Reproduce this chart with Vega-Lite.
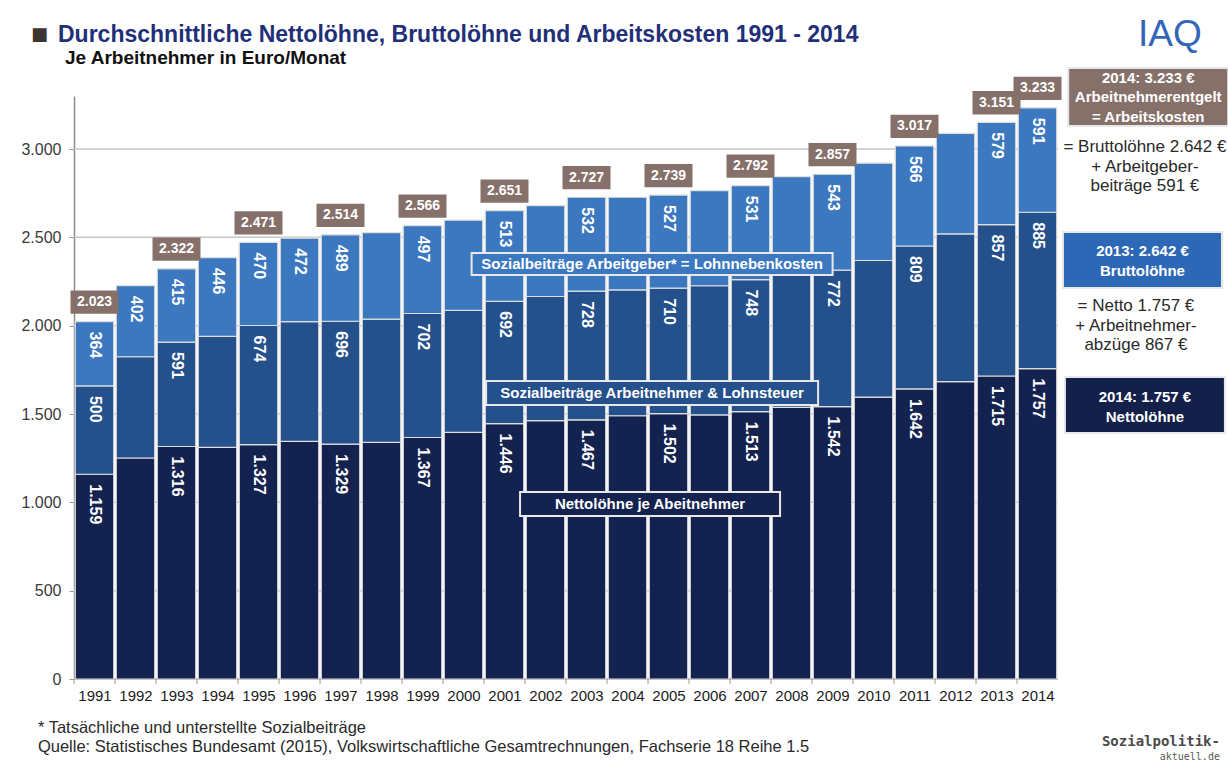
{
  "$schema": "https://vega.github.io/schema/vega-lite/v6.json",
  "width": 1148,
  "height": 583,
  "autosize": {"type": "none"},
  "padding": {"left": 74, "top": 96, "right": 6, "bottom": 92},
  "background": "white",
  "config": {
    "view": {"stroke": null},
    "font": "Liberation Sans",
    "locale": {"number": {"decimal": ",", "thousands": ".", "grouping": [3], "currency": ["", " €"]}}
  },
  "resolve": {"axis": {"x": "independent", "y": "independent"}},
  "datasets": {
    "segments": [
      {"year": 1991, "part": "Netto", "value": 1159, "show": true},
      {"year": 1991, "part": "Arbeitnehmer", "value": 500, "show": true},
      {"year": 1991, "part": "Arbeitgeber", "value": 364, "show": true},
      {"year": 1992, "part": "Netto", "value": 1251, "show": false},
      {"year": 1992, "part": "Arbeitnehmer", "value": 573, "show": false},
      {"year": 1992, "part": "Arbeitgeber", "value": 402, "show": true},
      {"year": 1993, "part": "Netto", "value": 1316, "show": true},
      {"year": 1993, "part": "Arbeitnehmer", "value": 591, "show": true},
      {"year": 1993, "part": "Arbeitgeber", "value": 415, "show": true},
      {"year": 1994, "part": "Netto", "value": 1311, "show": false},
      {"year": 1994, "part": "Arbeitnehmer", "value": 628, "show": false},
      {"year": 1994, "part": "Arbeitgeber", "value": 446, "show": true},
      {"year": 1995, "part": "Netto", "value": 1327, "show": true},
      {"year": 1995, "part": "Arbeitnehmer", "value": 674, "show": true},
      {"year": 1995, "part": "Arbeitgeber", "value": 470, "show": true},
      {"year": 1996, "part": "Netto", "value": 1345, "show": false},
      {"year": 1996, "part": "Arbeitnehmer", "value": 678, "show": false},
      {"year": 1996, "part": "Arbeitgeber", "value": 472, "show": true},
      {"year": 1997, "part": "Netto", "value": 1329, "show": true},
      {"year": 1997, "part": "Arbeitnehmer", "value": 696, "show": true},
      {"year": 1997, "part": "Arbeitgeber", "value": 489, "show": true},
      {"year": 1998, "part": "Netto", "value": 1339, "show": false},
      {"year": 1998, "part": "Arbeitnehmer", "value": 698, "show": false},
      {"year": 1998, "part": "Arbeitgeber", "value": 490, "show": false},
      {"year": 1999, "part": "Netto", "value": 1367, "show": true},
      {"year": 1999, "part": "Arbeitnehmer", "value": 702, "show": true},
      {"year": 1999, "part": "Arbeitgeber", "value": 497, "show": true},
      {"year": 2000, "part": "Netto", "value": 1396, "show": false},
      {"year": 2000, "part": "Arbeitnehmer", "value": 690, "show": false},
      {"year": 2000, "part": "Arbeitgeber", "value": 511, "show": false},
      {"year": 2001, "part": "Netto", "value": 1446, "show": true},
      {"year": 2001, "part": "Arbeitnehmer", "value": 692, "show": true},
      {"year": 2001, "part": "Arbeitgeber", "value": 513, "show": true},
      {"year": 2002, "part": "Netto", "value": 1462, "show": false},
      {"year": 2002, "part": "Arbeitnehmer", "value": 703, "show": false},
      {"year": 2002, "part": "Arbeitgeber", "value": 515, "show": false},
      {"year": 2003, "part": "Netto", "value": 1467, "show": true},
      {"year": 2003, "part": "Arbeitnehmer", "value": 728, "show": true},
      {"year": 2003, "part": "Arbeitgeber", "value": 532, "show": true},
      {"year": 2004, "part": "Netto", "value": 1490, "show": false},
      {"year": 2004, "part": "Arbeitnehmer", "value": 713, "show": false},
      {"year": 2004, "part": "Arbeitgeber", "value": 524, "show": false},
      {"year": 2005, "part": "Netto", "value": 1502, "show": true},
      {"year": 2005, "part": "Arbeitnehmer", "value": 710, "show": true},
      {"year": 2005, "part": "Arbeitgeber", "value": 527, "show": true},
      {"year": 2006, "part": "Netto", "value": 1495, "show": false},
      {"year": 2006, "part": "Arbeitnehmer", "value": 731, "show": false},
      {"year": 2006, "part": "Arbeitgeber", "value": 538, "show": false},
      {"year": 2007, "part": "Netto", "value": 1513, "show": true},
      {"year": 2007, "part": "Arbeitnehmer", "value": 748, "show": true},
      {"year": 2007, "part": "Arbeitgeber", "value": 531, "show": true},
      {"year": 2008, "part": "Netto", "value": 1537, "show": false},
      {"year": 2008, "part": "Arbeitnehmer", "value": 763, "show": false},
      {"year": 2008, "part": "Arbeitgeber", "value": 544, "show": false},
      {"year": 2009, "part": "Netto", "value": 1542, "show": true},
      {"year": 2009, "part": "Arbeitnehmer", "value": 772, "show": true},
      {"year": 2009, "part": "Arbeitgeber", "value": 543, "show": true},
      {"year": 2010, "part": "Netto", "value": 1596, "show": false},
      {"year": 2010, "part": "Arbeitnehmer", "value": 773, "show": false},
      {"year": 2010, "part": "Arbeitgeber", "value": 551, "show": false},
      {"year": 2011, "part": "Netto", "value": 1642, "show": true},
      {"year": 2011, "part": "Arbeitnehmer", "value": 809, "show": true},
      {"year": 2011, "part": "Arbeitgeber", "value": 566, "show": true},
      {"year": 2012, "part": "Netto", "value": 1683, "show": false},
      {"year": 2012, "part": "Arbeitnehmer", "value": 837, "show": false},
      {"year": 2012, "part": "Arbeitgeber", "value": 569, "show": false},
      {"year": 2013, "part": "Netto", "value": 1715, "show": true},
      {"year": 2013, "part": "Arbeitnehmer", "value": 857, "show": true},
      {"year": 2013, "part": "Arbeitgeber", "value": 579, "show": true},
      {"year": 2014, "part": "Netto", "value": 1757, "show": true},
      {"year": 2014, "part": "Arbeitnehmer", "value": 885, "show": true},
      {"year": 2014, "part": "Arbeitgeber", "value": 591, "show": true}
    ],
    "totals": [
      {"year": 1991, "total": 2023},
      {"year": 1993, "total": 2322},
      {"year": 1995, "total": 2471},
      {"year": 1997, "total": 2514},
      {"year": 1999, "total": 2566},
      {"year": 2001, "total": 2651},
      {"year": 2003, "total": 2727},
      {"year": 2005, "total": 2739},
      {"year": 2007, "total": 2792},
      {"year": 2009, "total": 2857},
      {"year": 2011, "total": 3017},
      {"year": 2013, "total": 3151},
      {"year": 2014, "total": 3233}
    ],
    "boxes": [
      {"id": "AG", "grp": "cat", "x": 2004.6, "y": 2349, "ty": 2349, "lines": ["Sozialbeiträge Arbeitgeber* = Lohnnebenkosten"]},
      {"id": "AN", "grp": "cat", "x": 2004.6, "y": 1619, "ty": 1619, "lines": ["Sozialbeiträge Arbeitnehmer & Lohnsteuer"]},
      {"id": "NE", "grp": "cat", "x": 2004.55, "y": 990, "ty": 990, "lines": ["Nettolöhne je Abeitnehmer"]},
      {"id": "AK", "grp": "side", "x": 2016.7, "y": 3294, "ty": 3402, "lines": ["2014: 3.233 €", "Arbeitnehmerentgelt", "= Arbeitskosten"]},
      {"id": "BR", "grp": "side", "x": 2016.56, "y": 2372, "ty": 2422, "lines": ["2013: 2.642 €", "Bruttolöhne"]},
      {"id": "NL", "grp": "side", "x": 2016.62, "y": 1551, "ty": 1596, "lines": ["2014: 1.757 €", "Nettolöhne"]}
    ],
    "notes": [
      {"x": 2016.62, "y": 3011, "lines": ["= Bruttolöhne 2.642 €", "+ Arbeitgeber-", "beiträge 591 €"]},
      {"x": 2016.4, "y": 2111, "lines": ["= Netto 1.757 €", "+ Arbeitnehmer-", "abzüge 867 €"]}
    ],
    "grid": [{"g": 500}, {"g": 1000}, {"g": 1500}, {"g": 2000}, {"g": 2500}, {"g": 3000}]
  },
  "layer": [
    {
      "data": {"name": "grid"},
      "mark": {"type": "rule", "color": "#c6c6c6", "strokeWidth": 1.5},
      "encoding": {
        "y": {"field": "g", "type": "quantitative", "axis": null},
        "x": {"datum": 1990.5, "type": "quantitative", "axis": null},
        "x2": {"datum": 2014.5}
      }
    },
    {
      "data": {"values": [{}]},
      "mark": {"type": "rule", "color": "#9a9a9a", "strokeWidth": 1.5},
      "encoding": {
        "x": {"datum": 1990.5, "type": "quantitative", "axis": null},
        "x2": {"datum": 2014.5},
        "y": {"datum": 0, "type": "quantitative", "axis": null}
      }
    },
    {
      "data": {"name": "segments"},
      "transform": [{"filter": "datum.part == 'Netto'"}],
      "mark": {"type": "rule", "color": "#9a9a9a", "strokeWidth": 1, "xOffset": -20.5, "y2Offset": 5},
      "encoding": {
        "x": {"field": "year", "type": "quantitative", "axis": null},
        "y": {"datum": 0, "type": "quantitative", "axis": null},
        "y2": {"datum": 0}
      }
    },
    {
      "data": {"name": "segments"},
      "mark": {"type": "bar", "width": 38.5, "stroke": "#dedede", "strokeWidth": 1.2},
      "encoding": {
        "x": {
          "field": "year", "type": "quantitative",
          "scale": {"domain": [1990.5, 2018.5], "nice": false, "zero": false, "padding": 0},
          "axis": {
            "values": [1991, 1992, 1993, 1994, 1995, 1996, 1997, 1998, 1999, 2000, 2001, 2002, 2003, 2004, 2005, 2006, 2007, 2008, 2009, 2010, 2011, 2012, 2013, 2014],
            "format": "d", "domain": false, "ticks": false, "grid": false,
            "labelFontSize": 15, "labelColor": "#1a1a1a", "labelPadding": 9,
            "labelFlush": false, "labelOverlap": false, "title": null
          }
        },
        "y": {
          "field": "value", "type": "quantitative", "stack": "zero",
          "scale": {"domain": [0, 3300], "nice": false},
          "axis": {
            "values": [0, 500, 1000, 1500, 2000, 2500, 3000],
            "format": ",.0f", "grid": false,
            "domainColor": "#8c8c8c", "domainWidth": 1.5,
            "tickColor": "#9a9a9a", "tickSize": 5,
            "labelPadding": 8, "labelFontSize": 16, "labelColor": "#3a3a3a", "title": null
          }
        },
        "color": {
          "field": "part", "type": "nominal",
          "scale": {"domain": ["Netto", "Arbeitnehmer", "Arbeitgeber"], "range": ["#13224f", "#24508b", "#3b78bf"]},
          "legend": null
        },
        "order": {"field": "part", "type": "ordinal", "sort": "descending"}
      }
    },
    {
      "data": {"name": "segments"},
      "mark": {"type": "text", "angle": 90, "align": "left", "baseline": "middle", "dx": 10, "fontSize": 16, "fontWeight": "bold", "color": "white"},
      "encoding": {
        "x": {"field": "year", "type": "quantitative", "axis": null},
        "y": {"field": "value", "type": "quantitative", "stack": "zero", "axis": null},
        "detail": {"field": "part", "type": "nominal"},
        "order": {"field": "part", "type": "ordinal", "sort": "descending"},
        "text": {"condition": {"test": "datum.show", "field": "value", "type": "quantitative", "format": ","}, "value": ""}
      }
    },
    {
      "data": {"name": "totals"},
      "mark": {"type": "point", "shape": "M-1,-1.3L1,-1.3L1,-0.33L-1,-0.33Z", "size": 2304, "filled": true, "color": "#86706a", "opacity": 1, "strokeWidth": 0},
      "encoding": {
        "x": {"field": "year", "type": "quantitative", "axis": null},
        "y": {"field": "total", "type": "quantitative", "axis": null}
      }
    },
    {
      "data": {"name": "totals"},
      "mark": {"type": "text", "dy": -19.5, "baseline": "middle", "align": "center", "fontSize": 14, "fontWeight": "bold", "color": "white"},
      "encoding": {
        "x": {"field": "year", "type": "quantitative", "axis": null},
        "y": {"field": "total", "type": "quantitative", "axis": null},
        "text": {"field": "total", "type": "quantitative", "format": ","}
      }
    },
    {
      "data": {"name": "boxes"},
      "mark": {"type": "point", "filled": true, "opacity": 1, "size": 40000, "stroke": "#e8e8e8", "strokeWidth": 2},
      "encoding": {
        "x": {"field": "x", "type": "quantitative", "axis": null},
        "y": {"field": "y", "type": "quantitative", "axis": null},
        "shape": {
          "field": "id", "type": "nominal", "legend": null,
          "scale": {
            "domain": ["AG", "AN", "NE", "AK", "BR", "NL"],
            "range": [
              "M-1.805,-0.11L1.805,-0.11L1.805,0.11L-1.805,0.11Z",
              "M-1.66,-0.12L1.66,-0.12L1.66,0.12L-1.66,0.12Z",
              "M-1.3,-0.12L1.3,-0.12L1.3,0.12L-1.3,0.12Z",
              "M-0.8,-0.29L0.8,-0.29L0.8,0.29L-0.8,0.29Z",
              "M-0.795,-0.28L0.795,-0.28L0.795,0.28L-0.795,0.28Z",
              "M-0.8,-0.28L0.8,-0.28L0.8,0.28L-0.8,0.28Z"
            ]
          }
        },
        "fill": {
          "field": "id", "type": "nominal", "legend": null,
          "scale": {
            "domain": ["AG", "AN", "NE", "AK", "BR", "NL"],
            "range": ["#3b78bf", "#24508b", "#13224f", "#86706a", "#2c68b5", "#13204a"]
          }
        }
      }
    },
    {
      "data": {"name": "boxes"},
      "transform": [{"filter": "datum.grp == 'cat'"}],
      "mark": {"type": "text", "align": "center", "baseline": "middle", "fontSize": 15, "fontWeight": "bold", "color": "white"},
      "encoding": {
        "x": {"field": "x", "type": "quantitative", "axis": null},
        "y": {"field": "ty", "type": "quantitative", "axis": null},
        "text": {"field": "lines", "type": "nominal"}
      }
    },
    {
      "data": {"name": "boxes"},
      "transform": [{"filter": "datum.grp == 'side'"}],
      "mark": {"type": "text", "align": "center", "baseline": "middle", "fontSize": 15, "fontWeight": "bold", "color": "white", "lineHeight": 19.5},
      "encoding": {
        "x": {"field": "x", "type": "quantitative", "axis": null},
        "y": {"field": "ty", "type": "quantitative", "axis": null},
        "text": {"field": "lines", "type": "nominal"}
      }
    },
    {
      "data": {"name": "notes"},
      "mark": {"type": "text", "align": "center", "baseline": "middle", "fontSize": 17, "color": "#2a2a2a", "lineHeight": 19.5},
      "encoding": {
        "x": {"field": "x", "type": "quantitative", "axis": null},
        "y": {"field": "y", "type": "quantitative", "axis": null},
        "text": {"field": "lines", "type": "nominal"}
      }
    },
    {
      "data": {"values": [{"x": 1989.45, "y": 3645, "t": "■"}]},
      "mark": {"type": "text", "align": "left", "baseline": "middle", "font": "DejaVu Sans", "fontSize": 18, "color": "#3d3434"},
      "encoding": {
        "x": {"field": "x", "type": "quantitative", "axis": null},
        "y": {"field": "y", "type": "quantitative", "axis": null},
        "text": {"field": "t", "type": "nominal"}
      }
    },
    {
      "data": {"values": [{"x": 1990.11, "y": 3645, "t": "Durchschnittliche Nettolöhne, Bruttolöhne und Arbeitskosten 1991 - 2014"}]},
      "mark": {"type": "text", "align": "left", "baseline": "middle", "fontSize": 23, "fontWeight": "bold", "color": "#1f2f78"},
      "encoding": {
        "x": {"field": "x", "type": "quantitative", "axis": null},
        "y": {"field": "y", "type": "quantitative", "axis": null},
        "text": {"field": "t", "type": "nominal"}
      }
    },
    {
      "data": {"values": [{"x": 1990.28, "y": 3515, "t": "Je Arbeitnehmer in Euro/Monat"}]},
      "mark": {"type": "text", "align": "left", "baseline": "middle", "fontSize": 19, "fontWeight": "bold", "color": "#111111"},
      "encoding": {
        "x": {"field": "x", "type": "quantitative", "axis": null},
        "y": {"field": "y", "type": "quantitative", "axis": null},
        "text": {"field": "t", "type": "nominal"}
      }
    },
    {
      "data": {"values": [{"x": 2017.23, "y": 3645, "t": "IAQ"}]},
      "mark": {"type": "text", "align": "center", "baseline": "middle", "fontSize": 37, "color": "#3366b8"},
      "encoding": {
        "x": {"field": "x", "type": "quantitative", "axis": null},
        "y": {"field": "y", "type": "quantitative", "axis": null},
        "text": {"field": "t", "type": "nominal"}
      }
    },
    {
      "data": {"values": [{"x": 1989.62, "y": -277, "lines": ["* Tatsächliche und unterstellte Sozialbeiträge", "Quelle: Statistisches Bundesamt (2015), Volkswirtschaftliche Gesamtrechnungen, Fachserie 18 Reihe 1.5"]}]},
      "mark": {"type": "text", "align": "left", "baseline": "middle", "fontSize": 16.5, "color": "#2a2a2a", "lineHeight": 19},
      "encoding": {
        "x": {"field": "x", "type": "quantitative", "axis": null},
        "y": {"field": "y", "type": "quantitative", "axis": null},
        "text": {"field": "lines", "type": "nominal"}
      }
    },
    {
      "data": {"values": [{"x": 2018.45, "y": -357, "t": "Sozialpolitik-"}]},
      "mark": {"type": "text", "align": "right", "baseline": "middle", "font": "DejaVu Sans Mono", "fontSize": 14, "fontWeight": "bold", "color": "#4a4a4a"},
      "encoding": {
        "x": {"field": "x", "type": "quantitative", "axis": null},
        "y": {"field": "y", "type": "quantitative", "axis": null},
        "text": {"field": "t", "type": "nominal"}
      }
    },
    {
      "data": {"values": [{"x": 2018.45, "y": -441, "t": "aktuell.de"}]},
      "mark": {"type": "text", "align": "right", "baseline": "middle", "font": "DejaVu Sans Mono", "fontSize": 10, "color": "#5a5a5a"},
      "encoding": {
        "x": {"field": "x", "type": "quantitative", "axis": null},
        "y": {"field": "y", "type": "quantitative", "axis": null},
        "text": {"field": "t", "type": "nominal"}
      }
    }
  ]
}
